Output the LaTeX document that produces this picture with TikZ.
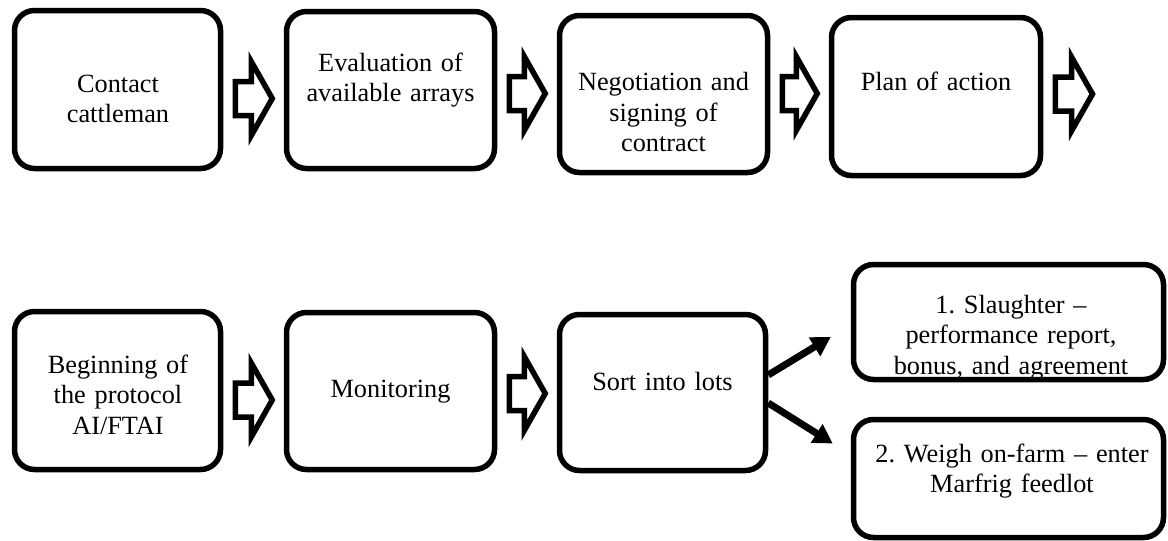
\documentclass[tikz,border=0pt]{standalone}
\usepackage{fontspec}
\setmainfont{Liberation Serif}
\usetikzlibrary{calc,arrows.meta}
\frenchspacing
\newcommand\blockarr[3]{%
  \draw[barrow] let \p1=($(#1 |- 0,#3)+(12,0)$), \p2=($(#2 |- 0,#3)+(-11.5,0)$) in
    (\x1,{\y1+17pt}) -- ({\x2-21pt},{\y1+17pt}) -- ({\x2-21pt},{\y1+37pt}) -- (\x2,\y1)
    -- ({\x2-21pt},{\y1-37pt}) -- ({\x2-21pt},{\y1-17pt}) -- (\x1,{\y1-17pt}) -- cycle;}
\begin{document}
\begin{tikzpicture}[x=1pt,y=-1pt,
  box/.style={draw=black, line width=5.5pt, rounded corners=20pt, inner sep=0pt, fill=white},
  txt/.style={font=\fontsize{26.3}{30.5}\selectfont, text width=330pt, align=center, anchor=base, inner sep=0pt},
  barrow/.style={draw=black, line width=5.5pt, line join=miter, fill=white},
  farrow/.style={draw=black, line width=7pt, -{Triangle[length=19pt,width=21pt]}}]
\fill[white] (0,0) rectangle (1168,541);
\useasboundingbox (0,0) rectangle (1168,541);
% boxes
\node[box, minimum width=206pt, minimum height=158pt] (b1) at (117.5,89.5) {};
\node[box, minimum width=208pt, minimum height=157pt] (b2) at (390.5,90) {};
\node[box, minimum width=208pt, minimum height=157pt] (b3) at (663.5,94) {};
\node[box, minimum width=209pt, minimum height=158pt] (b4) at (936,96.5) {};
\node[box, minimum width=206pt, minimum height=158pt] (b5) at (117.5,390.5) {};
\node[box, minimum width=208pt, minimum height=157pt] (b6) at (390.5,391) {};
\node[box, minimum width=206pt, minimum height=156pt] (b7) at (662.5,392.5) {};
\node[box, minimum width=310pt, minimum height=115pt] (b8) at (1008.5,322) {};
\node[box, minimum width=310pt, minimum height=118pt] (b9) at (1008.5,478.5) {};
% texts
\node[txt] (t1) at (118,92) {Contact\\cattleman};
\node[txt] (t2) at (390.5,71) {Evaluation of\\available arrays};
\node[txt] (t3) at (663.5,90.5) {Negotiation and\\signing of\\contract};
\node[txt] (t4) at (936,90) {Plan of action};
\node[txt] (t5) at (118,373) {Beginning of\\the protocol\\AI/FTAI};
\node[txt] (t6) at (390.5,397) {Monitoring};
\node[txt] (t7) at (662.5,390) {Sort into lots};
\node[txt] (t8) at (1011,313) {1. Slaughter --\\performance report,\\bonus, and agreement};
\node[txt] (t9) at (1012,462) {2. Weigh on-farm -- enter\\Marfrig feedlot};
% block arrows
\coordinate (e4) at (1104,94);
\blockarr{b1.east}{b2.west}{98.5}
\blockarr{b2.east}{b3.west}{93.5}
\blockarr{b3.east}{b4.west}{93.5}
\blockarr{b4.east}{e4}{94}
\blockarr{b5.east}{b6.west}{400}
\blockarr{b6.east}{b7.west}{393.5}
% fork arrows
\draw[farrow] (b7.east |- 0,375) -- ($(b8.west)+(-20,15)$);
\draw[farrow] (b7.east |- 0,403) -- ($(b9.west)+(-18,-35)$);
\end{tikzpicture}
\end{document}
